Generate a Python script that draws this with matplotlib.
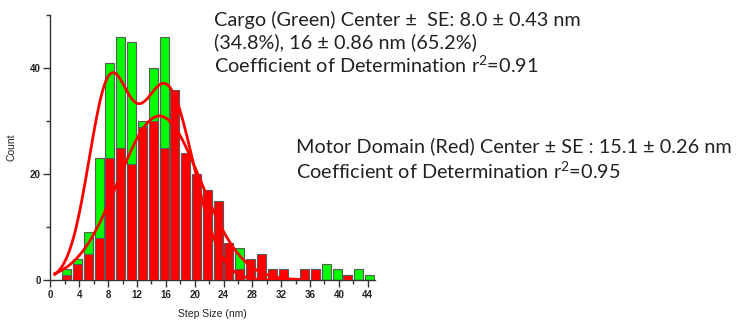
import numpy as np
import matplotlib
matplotlib.use("Agg")
import matplotlib.pyplot as plt

plt.rcParams["mathtext.fontset"] = "custom"
plt.rcParams["mathtext.rm"] = "Lato"
plt.rcParams["mathtext.it"] = "Lato:italic"
plt.rcParams["mathtext.bf"] = "Lato:bold"

# Histogram bins (nm): 1.5 nm wide, edges from 1.5 to 45
bin_width = 1.5
bin_centers = np.arange(2.25, 44.26, 1.5)

# Cargo (green) step-size counts
cargo_counts = [2, 4, 9, 23, 41, 46, 45, 30, 40, 46,
                34, 22, 17, 14, 11, 6, 6, 3, 2, 1,
                1, 0, 1, 2, 3, 2, 1, 2, 1]

# Motor domain (red) step-size counts
motor_counts = [1, 3, 5, 8, 23, 25, 22, 29, 30, 25,
                36, 24, 20, 17, 15, 7, 2, 4, 5, 2,
                2, 0, 2, 2, 0, 0, 1, 0, 0]

# Gaussian fit parameters: (amplitude, center, sigma)
cargo_fit = [(34.5, 8.0, 2.8), (36.5, 16.0, 3.8)]
motor_fit = [(31.0, 15.1, 5.7)]
fit_range = (0.6, 34.5)

cargo_text = ["Cargo (Green) Center \u00b1  SE: 8.0 \u00b1 0.43 nm",
              "(34.8%), 16 \u00b1 0.86 nm (65.2%)",
              "Coefficient of Determination r$^\\mathrm{2}$=0.91"]
motor_text = ["Motor Domain (Red) Center \u00b1 SE : 15.1 \u00b1 0.26 nm",
              "Coefficient of Determination r$^\\mathrm{2}$=0.95"]


def gauss_sum(x, params):
    y = np.zeros_like(x)
    for a, c, s in params:
        y += a * np.exp(-(x - c) ** 2 / (2 * s ** 2))
    return y


fig = plt.figure(figsize=(7.48, 3.22), dpi=100)
ax = fig.add_axes([0.0675, 0.1304, 0.4338, 0.8215])

edge = "#5a5a5a"
ax.bar(bin_centers, cargo_counts, width=1.25, color="#00ff00",
       edgecolor=edge, linewidth=0.8, zorder=2)
ax.bar(bin_centers, motor_counts, width=1.25, color="#ff0000",
       edgecolor=edge, linewidth=0.8, zorder=3)

xf = np.linspace(fit_range[0], fit_range[1], 400)
ax.plot(xf, gauss_sum(xf, cargo_fit), color="#ff0000", lw=2, zorder=4)
ax.plot(xf, gauss_sum(xf, motor_fit), color="#ff0000", lw=2, zorder=4)

ax.set_xlim(0, 45)
ax.set_ylim(0, 50)
ax.set_xticks(np.arange(0, 45, 4))
ax.set_xticks(np.arange(2, 45, 4), minor=True)
ax.set_yticks([0, 20, 40])
ax.set_yticks([10, 30, 50], minor=True)

for s in ("top", "right"):
    ax.spines[s].set_visible(False)
for s in ("left", "bottom"):
    ax.spines[s].set_color("#333333")
    ax.spines[s].set_linewidth(1.0)

ax.tick_params(which="major", direction="out", length=5, width=1,
               color="#333333", pad=2)
ax.tick_params(which="minor", direction="out", length=3, width=1,
               color="#333333")
for lbl in ax.get_xticklabels() + ax.get_yticklabels():
    lbl.set_fontfamily("Liberation Sans")
    lbl.set_fontweight("bold")
    lbl.set_fontsize(7)
    lbl.set_color("#222222")

ax.set_xlabel("Step Size (nm)", fontfamily="Liberation Sans", fontsize=7.5,
              color="#222222", labelpad=7)
ax.set_ylabel("Count", fontfamily="Liberation Sans", fontsize=7.5,
              color="#222222", labelpad=10)

txt_kw = dict(fontfamily="Lato", fontsize=14.3, color="#222222",
              ha="left", va="center")
for i, line in enumerate(cargo_text):
    fig.text(214 / 748, 1 - (20 + 22.5 * i) / 322, line, **txt_kw)
for i, line in enumerate(motor_text):
    fig.text(296 / 748, 1 - (146.5 + 25 * i) / 322, line, **txt_kw)

fig.savefig("out.png", dpi=100, facecolor="white")
